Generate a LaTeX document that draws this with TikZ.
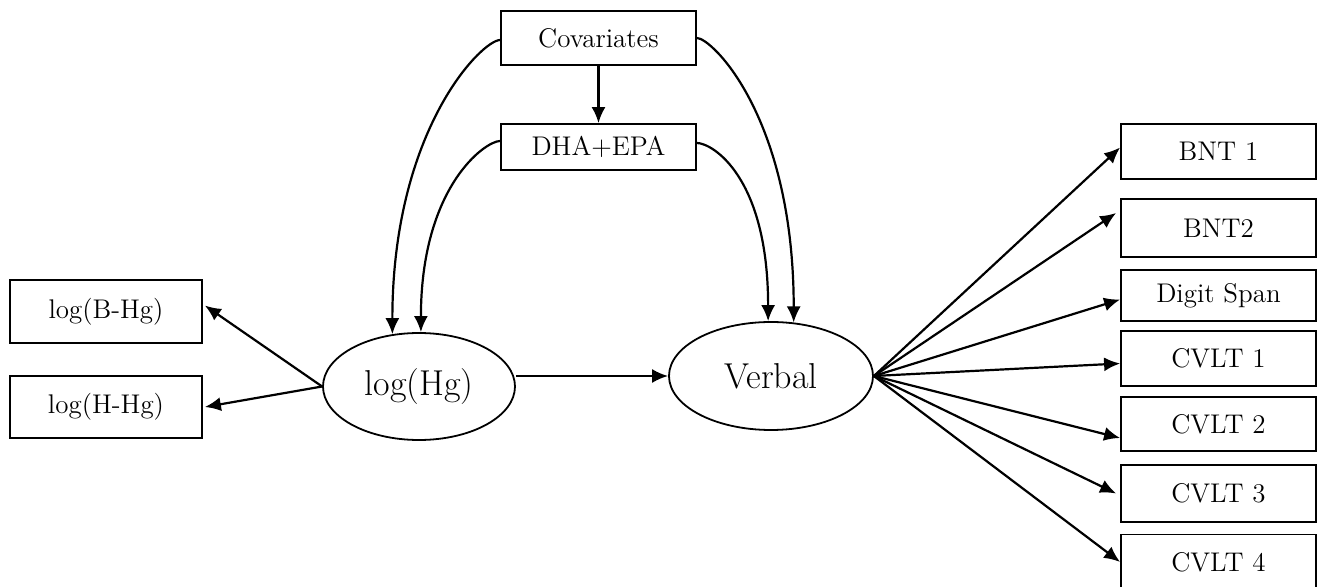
\documentclass[tikz,border=0pt]{standalone}
\usetikzlibrary{shapes.geometric,arrows.meta,calc}

\tikzset{
  box/.style={draw,rectangle,line width=0.9pt,inner sep=0pt,minimum width=97.5pt,font=\fontsize{13.5}{16}\selectfont},
  latent/.style={draw,ellipse,line width=0.9pt,inner sep=0pt,font=\fontsize{18}{21}\selectfont},
  arr/.style={line width=1.1pt,-{Latex[length=8pt,width=7pt]}}
}

\begin{document}
\begin{tikzpicture}[x=0.5pt,y=-0.5pt]
\useasboundingbox (0,0) rectangle (1324,587);

%top boxes
\node[box,minimum height=27pt] (cov) at (598.5,38) {Covariates};
\node[box,minimum height=23pt] (dha) at (598.5,147) {DHA+EPA};

%left boxes
\node[box,minimum width=96pt,minimum height=31.5pt] (bhg) at (106,311.5) {log(B-Hg)};
\node[box,minimum width=96pt,minimum height=31pt] (hhg) at (106,407) {log(H-Hg)};

%the two latent variables
\node[latent,minimum width=96pt,minimum height=53.5pt] (hg) at (419,386.5) {log(Hg)};
\node[latent,minimum width=102pt,minimum height=54pt] (verbal) at (771,376) {Verbal};

%right boxes
\node[box,minimum height=27.5pt] (bnt1) at (1218.5,151.5) {BNT 1};
\node[box,minimum height=29pt] (bnt2) at (1218.5,228) {BNT2};
\node[box,minimum height=25.5pt] (digit) at (1218.5,295.5) {Digit Span};
\node[box,minimum height=27.5pt] (cvlt1) at (1218.5,358.5) {CVLT 1};
\node[box,minimum height=27pt] (cvlt2) at (1218.5,424) {CVLT 2};
\node[box,minimum height=28.5pt] (cvlt3) at (1218.5,493.5) {CVLT 3};
\node[box,minimum height=27.5pt] (cvlt4) at (1218.5,562) {CVLT 4};

\draw[arr] (cov) -- (dha);
\draw[arr] ([yshift=-1pt]cov.west) .. controls +(-18,0) and +(0,-205) .. (hg.117);
\draw[arr] ([yshift=3pt]dha.west) .. controls +(-15,0) and +(0,-145) .. (hg.88);
\draw[arr] ([yshift=2pt]dha.east) .. controls +(15,0) and +(0,-145) .. (verbal.93);
\draw[arr] (cov.east) .. controls +(15,0) and +(0,-205) .. (verbal.67);

\draw[arr] (hg.west) -- ($(bhg.east)+(2,-6)$);
\draw[arr] (hg.west) -- ($(hhg.east)+(2,0)$);
\draw[arr] (hg.east |- verbal.west) -- (verbal.west);

%verbal indicators
\draw[arr] (verbal.east) -- ($(bnt1.west)+(0,-4)$);
\draw[arr] (verbal.east) -- ($(bnt2.west)+(-4,-15)$);
\draw[arr] (verbal.east) -- ($(digit.west)+(0,4)$);
\draw[arr] (verbal.east) -- ($(cvlt1.west)+(0,5)$);
\draw[arr] (verbal.east) -- ($(cvlt2.west)+(0,14)$);
\draw[arr] (verbal.east) -- ($(cvlt3.west)+(-4,0)$);
\draw[arr] (verbal.east) -- (cvlt4.west);

\end{tikzpicture}
\end{document}
